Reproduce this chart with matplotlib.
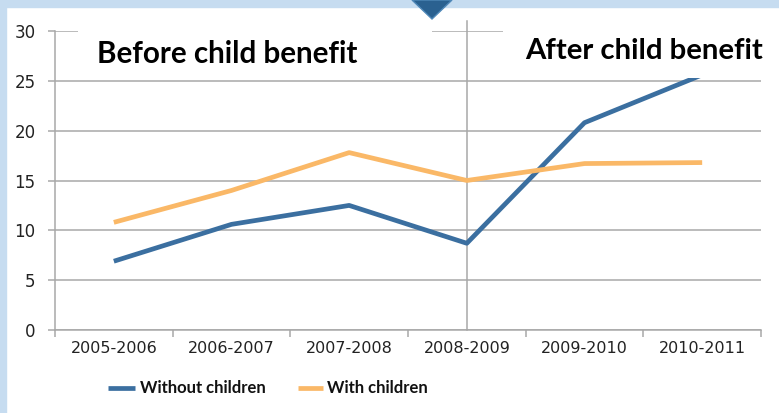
import matplotlib
matplotlib.use("Agg")
import matplotlib.pyplot as plt
import matplotlib.patches as patch
from matplotlib.lines import Line2D
import numpy as np

years = ["2005-2006", "2006-2007", "2007-2008", "2008-2009", "2009-2010", "2010-2011"]
without_children = [6.9, 10.6, 12.5, 8.7, 20.8, 25.6]
with_children = [10.8, 14.0, 17.8, 15.0, 16.7, 16.8]
series_names = ["Without children", "With children"]
series_colors = ["#3b6fa0", "#fab867"]

W, H = 779, 413
fig = plt.figure(figsize=(W / 100, H / 100), dpi=100)
fig.patch.set_facecolor("white")

# light blue frame on the left and top
fig.add_artist(patch.Rectangle((0, 0), 6 / W, 1, transform=fig.transFigure, color="#c6dcf0", zorder=8))
fig.add_artist(patch.Rectangle((0, 1 - 7 / H), 1, 7 / H, transform=fig.transFigure, color="#c6dcf0", zorder=8))
tri = patch.Polygon([(412 / W, 1), (452 / W, 1), (432 / W, 1 - 19 / H)], closed=True,
                    transform=fig.transFigure, facecolor="#2a6190", edgecolor="#4f88b8", linewidth=1, zorder=9)
fig.add_artist(tri)

ax = fig.add_axes([55 / W, 1 - 330 / H, (761 - 55) / W, (330 - 31) / H])
x = np.arange(len(years))

ax.set_xlim(-0.5, len(years) - 0.5)
ax.set_ylim(0, 30)
ax.set_yticks(range(0, 31, 5))
ax.grid(axis="y", color="#a8a8a8", linewidth=1.1)
ax.set_axisbelow(True)

ax.plot(x, without_children, color=series_colors[0], linewidth=3.4, solid_capstyle="butt", zorder=3)
ax.plot(x, with_children, color=series_colors[1], linewidth=3.4, solid_capstyle="butt", zorder=3)

# divider at 2008-2009
ax.plot([3, 3], [0, 31.0], color="#a8a8a8", linewidth=1.1, clip_on=False, zorder=2)

for s in ["top", "right"]:
    ax.spines[s].set_visible(False)
for s in ["left", "bottom"]:
    ax.spines[s].set_color("#a8a8a8")
    ax.spines[s].set_linewidth(1.1)

ax.set_xticks(x)
ax.set_xticklabels(years)
ax.set_xticks(np.arange(-0.5, len(years)), minor=True)
ax.tick_params(axis="x", which="major", length=0, pad=8, labelsize=11.5, labelcolor="#222222")
ax.tick_params(axis="x", which="minor", length=5, color="#a8a8a8", width=1.1)
ax.tick_params(axis="y", length=5, color="#a8a8a8", width=1.1, pad=9, labelsize=12, labelcolor="#222222")

# white boxes carrying the titles
fig.add_artist(patch.Rectangle((78 / W, 1 - 80 / H), (432 - 78) / W, 73 / H, transform=fig.transFigure,
                               facecolor="white", edgecolor="none", zorder=5))
fig.add_artist(patch.Rectangle((503 / W, 1 - 78 / H), (W - 503) / W, 71 / H, transform=fig.transFigure,
                               facecolor="white", edgecolor="none", zorder=5))
fig.text(97 / W, 1 - 63 / H, "Before child benefit", fontsize=21.3, fontweight="bold",
         family="Lato", color="black", zorder=6, va="baseline")
fig.text(525 / W, 1 - 59 / H, "After child benefit", fontsize=21.2, fontweight="bold",
         family="Lato", color="black", zorder=6, va="baseline")

# legend, laid out by hand
legend_pos = [(108, 135, 140), (298, 323, 327)]
for (x0, x1, tx), name, col in zip(legend_pos, series_names, series_colors):
    yy = 1 - 388 / H
    fig.add_artist(Line2D([x0 / W, x1 / W], [yy, yy], transform=fig.transFigure,
                          color=col, linewidth=3.4, solid_capstyle="butt"))
    fig.text(tx / W, yy, name, fontsize=12, fontweight="bold", family="Lato",
             color="#111111", va="center", ha="left")

fig.savefig("out.png", dpi=100)
